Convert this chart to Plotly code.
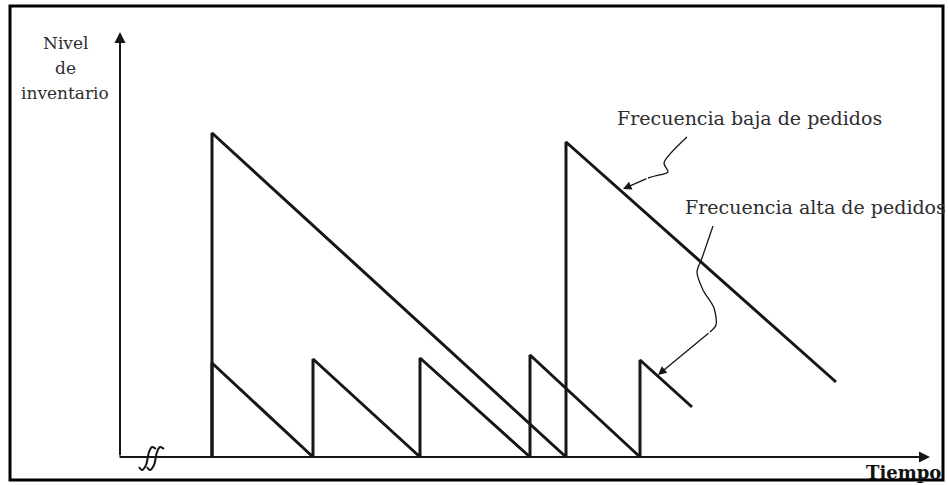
import plotly.graph_objects as go

# ---- data (time units, inventory units) ----
low_freq_t = [9.2, 9.2, 44.6, 44.6, 71.6]
low_freq_q = [0, 32.4, 0, 31.5, 7.5]

high_freq_t = [9.2, 9.2, 19.3, 19.3, 30.0, 30.0, 41.0, 41.0, 52.0, 52.0, 57.2]
high_freq_q = [0, 9.4, 0, 9.8, 0, 9.9, 0, 10.2, 0, 9.7, 5.0]

y_label_lines = ["Nivel", "de", "inventario"]
x_label = "Tiempo"
label_low = "Frecuencia baja de pedidos"
label_high = "Frecuencia alta de pedidos"

INK = "#161616"
TXT = "#2e2e2e"
FONT = "DejaVu Serif"

fig = go.Figure()

fig.add_trace(go.Scatter(x=low_freq_t, y=low_freq_q, mode="lines",
                         line=dict(color=INK, width=3), hoverinfo="skip"))
fig.add_trace(go.Scatter(x=high_freq_t, y=high_freq_q, mode="lines",
                         line=dict(color=INK, width=3), hoverinfo="skip"))

# axis break squiggles on the time axis
for dx in (0.0, 0.8):
    sx = [1.9, 2.2, 2.6, 2.9, 3.2, 3.6]
    sy = [-1.0, -1.3, -0.8, 0.5, 1.0, 0.8]
    fig.add_trace(go.Scatter(x=[v + dx for v in sx], y=sy, mode="lines",
                             line=dict(color=INK, width=2, shape="spline"),
                             hoverinfo="skip"))

# pointer lines (straight + squiggle parts)
fig.add_trace(go.Scatter(x=[56.7, 54.4, 54.8, 53.5, 52.8],
                         y=[32.0, 29.4, 28.5, 28.1, 27.9], mode="lines",
                         line=dict(color=INK, width=1.3, shape="spline", smoothing=0.8),
                         hoverinfo="skip"))
fig.add_trace(go.Scatter(x=[59.3, 58.2, 57.7, 58.3, 59.4, 59.6, 59.0],
                         y=[23.1, 19.9, 18.5, 16.7, 14.9, 13.2, 12.5], mode="lines",
                         line=dict(color=INK, width=1.3, shape="spline", smoothing=0.8),
                         hoverinfo="skip"))

annotations = []
# axes with arrowheads
annotations.append(dict(x=81.0, y=0, ax=-0.2, ay=0, xref="x", yref="y", axref="x", ayref="y",
                        showarrow=True, arrowhead=2, arrowsize=1.1, arrowwidth=2,
                        arrowcolor=INK, text=""))
annotations.append(dict(x=0, y=42.5, ax=0, ay=0, xref="x", yref="y", axref="x", ayref="y",
                        showarrow=True, arrowhead=2, arrowsize=1.1, arrowwidth=2,
                        arrowcolor=INK, text=""))
# pointer arrowheads
annotations.append(dict(x=50.3, y=26.8, ax=52.8, ay=27.9, xref="x", yref="y", axref="x", ayref="y",
                        showarrow=True, arrowhead=2, arrowsize=1.3, arrowwidth=1.3,
                        arrowcolor=INK, text=""))
annotations.append(dict(x=53.8, y=8.2, ax=59.0, ay=12.5, xref="x", yref="y", axref="x", ayref="y",
                        showarrow=True, arrowhead=2, arrowsize=1.3, arrowwidth=1.3,
                        arrowcolor=INK, text=""))

# texts
for txt, yy in zip(y_label_lines, [41.4, 38.9, 36.4]):
    annotations.append(dict(x=-5.5, y=yy, xref="x", yref="y", text=txt, showarrow=False,
                            font=dict(family=FONT, size=17, color=TXT), xanchor="center"))
annotations.append(dict(x=49.5, y=33.9, xref="x", yref="y", text=label_low, showarrow=False,
                        font=dict(family=FONT, size=19, color=TXT), xanchor="left"))
annotations.append(dict(x=56.3, y=25.0, xref="x", yref="y", text=label_high, showarrow=False,
                        font=dict(family=FONT, size=19, color=TXT), xanchor="left"))
annotations.append(dict(x=74.4, y=-1.5, xref="x", yref="y", text="<b>" + x_label + "</b>",
                        showarrow=False, font=dict(family=FONT, size=18, color="#111"),
                        xanchor="left"))

fig.update_layout(
    width=948, height=485, autosize=False,
    margin=dict(l=0, r=0, t=0, b=0),
    paper_bgcolor="white", plot_bgcolor="white",
    showlegend=False,
    xaxis=dict(range=[-12, 82.8], visible=False, fixedrange=True),
    yaxis=dict(range=[-2.8, 45.7], visible=False, fixedrange=True),
    annotations=annotations,
    shapes=[dict(type="rect", xref="paper", yref="paper",
                 x0=10 / 948, x1=943 / 948, y0=1 - 480 / 485, y1=1 - 6 / 485,
                 line=dict(color="black", width=3), fillcolor="rgba(0,0,0,0)")],
)

fig.write_html("out.html", config={"displayModeBar": False},
               post_script="document.body.style.margin='0';")
